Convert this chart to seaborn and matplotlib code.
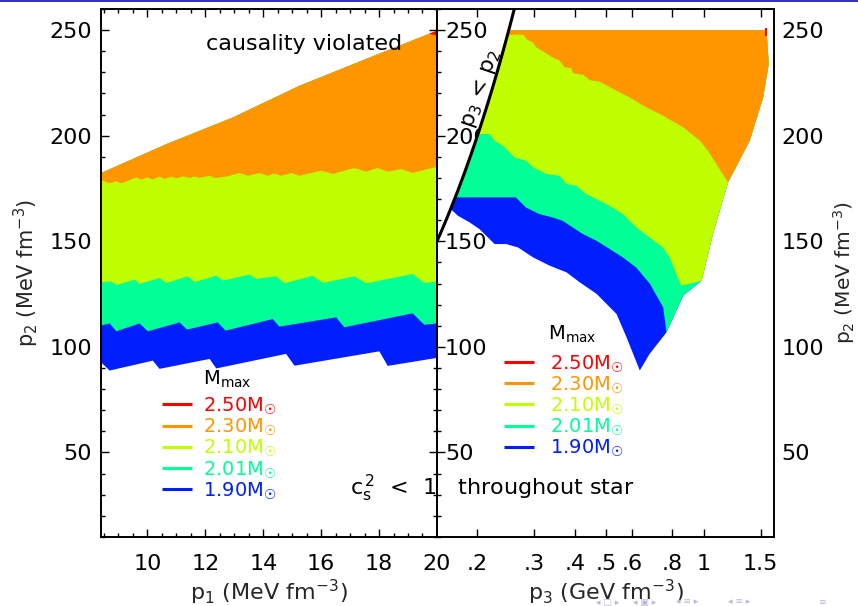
import numpy as np
import matplotlib
matplotlib.use("Agg")
import matplotlib.pyplot as plt
import seaborn as sns
from matplotlib.ticker import MultipleLocator, NullLocator
from matplotlib.patches import Rectangle

# ---------------------------------------------------------------------------
# Maximum-mass levels and their colours
# ---------------------------------------------------------------------------
mass_levels = ["2.50", "2.30", "2.10", "2.01", "1.90"]
level_colors = ["#ff0000", "#ff9600", "#bfff00", "#00ff96", "#001eff"]

# ---------------------------------------------------------------------------
# Left panel: p1 vs p2 (both MeV fm^-3)
# ---------------------------------------------------------------------------
# causality limit (upper edge of the allowed region)
causal_p1 = [8.4, 10.66, 12.95, 15.25, 17.55, 19.85, 20.0]
causal_p2 = [182.3, 196.0, 208.6, 223.6, 236.3, 248.9, 249.8]

# lower edge of the region with Mmax >= 1.90
m190_p1 = [8.4, 8.70, 10.19, 10.42, 12.15, 12.38, 14.79, 15.08, 18.01, 18.30, 20.0]
m190_p2 = [92.7, 88.8, 93.5, 89.6, 94.3, 89.8, 96.7, 91.1, 97.9, 91.0, 94.8]

# lower edge of the region with Mmax >= 2.01
m201_p1 = [8.4, 8.70, 8.93, 9.73, 10.02, 11.11, 11.37, 12.43, 12.70, 14.33,
           14.56, 16.52, 16.80, 19.16, 19.56, 20.0]
m201_p2 = [110.1, 111.1, 107.4, 111.1, 107.4, 111.6, 108.2, 111.6, 107.7, 113.2,
           109.6, 114.0, 109.3, 115.9, 110.5, 111.1]

# lower edge of the region with Mmax >= 2.10
m210_p1 = [8.4, 8.76, 8.93, 9.56, 9.73, 10.42, 10.66, 11.40, 11.63, 12.38,
           12.61, 13.53, 13.76, 14.45, 14.73, 15.71, 16.06, 17.15, 17.55,
           19.16, 19.56, 20.0]
m210_p2 = [130.6, 131.0, 129.3, 131.8, 129.8, 132.6, 130.3, 133.4, 130.7, 133.7,
           131.4, 134.2, 132.2, 133.4, 130.1, 133.6, 130.3, 133.4, 130.1,
           134.5, 130.3, 130.9]

# lower edge of the region with Mmax >= 2.30
m230_p1 = [8.4, 8.70, 8.93, 9.10, 9.62, 9.79, 10.02, 10.19, 10.42, 10.60,
           10.83, 11.00, 11.23, 11.46, 11.63, 11.80, 12.15, 12.32, 12.72,
           13.18, 13.47, 13.87, 14.16, 14.39, 14.62, 14.97, 15.25, 16.0,
           16.40, 17.15, 17.55, 17.95, 18.30, 18.76, 19.16, 20.0]
m230_p2 = [179.0, 177.4, 178.4, 177.4, 180.2, 179.2, 180.2, 179.2, 180.6, 179.5,
           180.6, 179.8, 180.7, 180.0, 180.7, 180.0, 181.0, 180.0, 180.6,
           182.3, 181.0, 182.3, 181.0, 182.1, 181.0, 182.3, 181.0, 183.4,
           181.9, 184.7, 182.9, 184.7, 182.9, 184.2, 182.3, 185.3]

# lower edge of the region with Mmax >= 2.50
m250_p1 = [19.72, 20.0]
m250_p2 = [248.2, 247.5]

# ---------------------------------------------------------------------------
# Right panel: p3 (GeV fm^-3) vs p2 (MeV fm^-3)
# ---------------------------------------------------------------------------
p2_ceiling = 250.0
p2_line = np.array([150.0, 260.0])          # p3 = p2 line (GeV vs MeV)

# right-hand edge of the allowed region, bottom to top
edge_p3 = [0.635, 0.681, 0.768, 0.865, 0.986, 1.069, 1.19, 1.388, 1.527, 1.589, 1.58, 1.564]
edge_p2 = [88.8, 96.7, 106.9, 124.3, 131.3, 153.5, 177.9, 197.6, 218.1, 233.9, 240.2, 250.0]

r190_p3 = [0.1653, 0.174, 0.189, 0.2028, 0.226, 0.2455, 0.267, 0.297, 0.334,
           0.377, 0.414, 0.467, 0.538, 0.578, 0.635]
r190_p2 = [165.3, 162.1, 159.0, 155.8, 148.7, 148.7, 147.1, 142.4, 138.5,
           135.3, 130.6, 125.1, 115.6, 104.5, 88.8]

r201_p3 = [0.1708, 0.263, 0.2825, 0.3106, 0.3415, 0.3667, 0.394, 0.423, 0.466,
           0.512, 0.5627, 0.619, 0.683, 0.750, 0.768]
r201_p2 = [170.8, 170.8, 166.0, 162.9, 161.3, 159.7, 156.6, 153.5, 150.3,
           146.4, 142.4, 137.6, 129.8, 118.7, 106.9]

r210_p3 = [0.2008, 0.218, 0.226, 0.240, 0.2605, 0.283, 0.297, 0.3266, 0.359,
           0.377, 0.404, 0.4335, 0.466, 0.512, 0.5627, 0.619, 0.681, 0.748,
           0.785, 0.823, 0.853, 0.986]
r210_p2 = [200.8, 200.8, 197.6, 195.2, 189.7, 188.1, 185.0, 181.9, 181.0,
           177.1, 176.3, 172.4, 170.0, 166.8, 162.9, 156.6, 151.8, 147.1,
           142.4, 134.5, 129.0, 131.3]

r230_p3 = [0.2478, 0.2778, 0.283, 0.297, 0.304, 0.319, 0.338, 0.359, 0.372,
           0.390, 0.395, 0.424, 0.4446, 0.4775, 0.5254, 0.5915, 0.6505, 0.750,
           0.865, 0.974, 1.035, 1.094, 1.19]
r230_p2 = [247.8, 247.8, 245.7, 244.1, 241.8, 239.9, 237.4, 235.5, 232.3,
           232.0, 229.5, 228.8, 226.3, 225.5, 222.1, 218.1, 214.2, 209.4,
           203.9, 197.6, 192.5, 186.6, 177.9]

r250_p3 = [1.553, 1.572, 1.572, 1.553]
r250_p2 = [247.0, 247.0, 251.2, 251.2]

p3_ticks = [0.2, 0.3, 0.4, 0.5, 0.6, 0.8, 1.0, 1.5]
p3_ticklabels = [".2", ".3", ".4", ".5", ".6", ".8", "1", "1.5"]
p1_ticks = [10, 12, 14, 16, 18, 20]
p2_ticks = [50, 100, 150, 200, 250]

# ---------------------------------------------------------------------------
# Style
# ---------------------------------------------------------------------------
sns.set_style("ticks")
plt.rcParams.update({
    "font.family": ["DejaVu Sans"],
    "mathtext.default": "regular",
    "axes.edgecolor": "black",
    "axes.linewidth": 1.4,
    "xtick.color": "black",
    "ytick.color": "black",
    "text.color": "black",
    "xtick.direction": "in",
    "ytick.direction": "in",
    "xtick.major.size": 5.5,
    "ytick.major.size": 5.5,
    "xtick.minor.size": 3.0,
    "ytick.minor.size": 3.0,
    "xtick.major.width": 1.0,
    "ytick.major.width": 1.0,
    "xtick.minor.width": 1.0,
    "ytick.minor.width": 1.0,
})
FS = 16       # tick labels and annotations
FS_LAB = 15   # y-axis titles
FS_LEG = 14   # legend entries

fig = plt.figure(figsize=(8.58, 6.06), dpi=100)
ax1 = fig.add_axes([0.1177, 0.1139, 0.3916, 0.8713])
ax2 = fig.add_axes([0.5093, 0.1139, 0.3928, 0.8713])


def fill_left(ax, bx, by, color):
    """Fill between a lower edge and the causality limit."""
    bx = np.asarray(bx, float)
    by = np.asarray(by, float)
    cx = np.asarray(causal_p1, float)
    cy = np.asarray(causal_p2, float)
    inner = cx[(cx > bx[0]) & (cx < bx[-1])]
    tx = np.concatenate([[bx[-1]], inner[::-1], [bx[0]]])
    ty = np.interp(tx, cx, cy)
    ax.fill(np.concatenate([bx, tx]), np.concatenate([by, ty]),
            color=color, lw=0, zorder=1)


def fill_right(ax, bx, by, color):
    """Fill a region bounded below by (bx, by), on the right by the outer
    edge, on top by the ceiling and on the left by the p3 = p2 line."""
    bx = np.asarray(bx, float)
    by = np.asarray(by, float)
    ex = np.asarray(edge_p3, float)
    ey = np.asarray(edge_p2, float)
    above = ey > by[-1]
    lp2 = np.linspace(p2_ceiling, by[0], 40)
    xs = np.concatenate([bx, ex[above], lp2 / 1000.0])
    ys = np.concatenate([by, ey[above], lp2])
    ax.fill(xs, ys, color=color, lw=0, zorder=1)


def mass_label(value):
    return value + "M$_{☉}$"


def draw_key(ax, x0, x1, xt, ys, title_xy):
    """Colour key: short line samples with labels in matching colours."""
    ax.text(title_xy[0], title_xy[1], "M$_{max}$", transform=ax.transAxes,
            fontsize=FS_LEG, va="baseline", ha="left")
    for lab, col, yy in zip(mass_levels, level_colors, ys):
        ax.plot([x0, x1], [yy, yy], transform=ax.transAxes,
                color=col, lw=2.2, solid_capstyle="butt")
        ax.text(xt, yy - 0.0135, mass_label(lab), transform=ax.transAxes,
                fontsize=FS_LEG, color=col, va="baseline", ha="left")


# ---------------------------------------------------------------------------
# Left panel
# ---------------------------------------------------------------------------
left_edges = [(m190_p1, m190_p2), (m201_p1, m201_p2), (m210_p1, m210_p2),
              (m230_p1, m230_p2), (m250_p1, m250_p2)]
for (bx, by), col in zip(left_edges, level_colors[::-1]):
    fill_left(ax1, bx, by, col)

ax1.set_xlim(8.4, 20.0)
ax1.set_ylim(10, 260)
ax1.set_xticks(p1_ticks)
ax1.set_xticklabels([str(t) for t in p1_ticks])
ax1.xaxis.set_minor_locator(MultipleLocator(0.5))
ax1.set_yticks(p2_ticks)
ax1.yaxis.set_minor_locator(MultipleLocator(10))
ax1.tick_params(which="both", top=True, right=True, labelsize=FS)
ax1.tick_params(axis="x", which="major", pad=12.0)
ax1.tick_params(axis="y", which="major", pad=6.5)
ax1.set_xlabel("p$_1$ (MeV fm$^{-3}$)", fontsize=FS)
ax1.xaxis.set_label_coords(0.5, -0.078)
ax1.xaxis.label.set_va("top")
ax1.set_ylabel("p$_2$ (MeV fm$^{-3}$)", fontsize=FS_LAB)
ax1.yaxis.set_label_coords(-0.178, 0.5)

ax1.text(0.3125, 0.922, "causality violated", transform=ax1.transAxes,
         fontsize=FS, va="baseline", ha="left")

draw_key(ax1, 0.1815, 0.2708, 0.3036,
         [0.2513, 0.2110, 0.1706, 0.1303, 0.0900], (0.3036, 0.2879))

# ---------------------------------------------------------------------------
# Right panel
# ---------------------------------------------------------------------------
ax2.set_xscale("log")
right_edges = [(r190_p3, r190_p2), (r201_p3, r201_p2), (r210_p3, r210_p2),
               (r230_p3, r230_p2)]
for (bx, by), col in zip(right_edges, level_colors[:0:-1]):
    fill_right(ax2, bx, by, col)
ax2.fill(r250_p3, r250_p2, color=level_colors[0], lw=0, zorder=1)

line_p2 = np.linspace(p2_line[0], p2_line[1], 50)
sns.lineplot(x=line_p2 / 1000.0, y=line_p2, ax=ax2, color="black", lw=2.2,
             sort=False, zorder=3)
ax2.text(0.2055, 222.2, "p$_3$ < p$_2$", rotation=71, fontsize=FS,
         ha="center", va="center", rotation_mode="anchor")

ax2.set_xlim(0.15, 1.65)
ax2.set_ylim(10, 260)
ax2.set_xticks(p3_ticks)
ax2.set_xticklabels(p3_ticklabels)
ax2.xaxis.set_minor_locator(NullLocator())
ax2.set_yticks(p2_ticks)
ax2.yaxis.set_minor_locator(MultipleLocator(10))
ax2.tick_params(which="both", top=True, right=True, labelsize=FS)
ax2.tick_params(axis="x", which="major", pad=12.0)
ax2.tick_params(axis="y", which="major", pad=-5.8)
for t in ax2.yaxis.get_major_ticks():
    t.label1.set_horizontalalignment("left")
ax2.set_xlabel("p$_3$ (GeV fm$^{-3}$)", fontsize=FS)
ax2.xaxis.set_label_coords(0.5, -0.078)
ax2.xaxis.label.set_va("top")
ax2.set_ylabel("")

# outer p2 labels on the right-hand side
ax2r = ax2.twinx()
ax2r.set_ylim(10, 260)
ax2r.set_yticks(p2_ticks)
ax2r.yaxis.set_minor_locator(NullLocator())
ax2r.tick_params(axis="y", which="both", length=0, labelsize=FS, pad=5.3)
ax2r.set_ylabel("p$_2$ (MeV fm$^{-3}$)", fontsize=14.5)
ax2r.yaxis.set_label_coords(1.168, 0.5)
for sp in ax2r.spines.values():
    sp.set_visible(False)

draw_key(ax2, 0.1988, 0.2878, 0.3353,
         [0.3309, 0.2910, 0.2510, 0.2110, 0.1710], (0.3294, 0.3731))

# sound-speed note spanning both panels
fig.text(350 / 858, 1 - 495 / 606, "$c_s^{\\,2}$  <  1   throughout star",
         fontsize=FS, va="baseline", ha="left")

# slide frame decorations
fig.add_artist(Rectangle((0, 1 - 2.0 / 606), 1, 2.0 / 606, transform=fig.transFigure,
                         color="#3535b0", lw=0))
for nx, sym in zip([596, 633, 676, 728, 818],
                   ["\u25c2 \u25a1 \u25b8", "\u25c2 \u25a3 \u25b8",
                    "\u25c2 \u2261 \u25b8", "\u25c2 \u2261 \u25b8", "\u2261"]):
    fig.text(nx / 858, 1 - 602 / 606, sym, fontsize=6.5, color="#b4b8e0",
             va="center", ha="left")

fig.savefig("out.png", dpi=100)
